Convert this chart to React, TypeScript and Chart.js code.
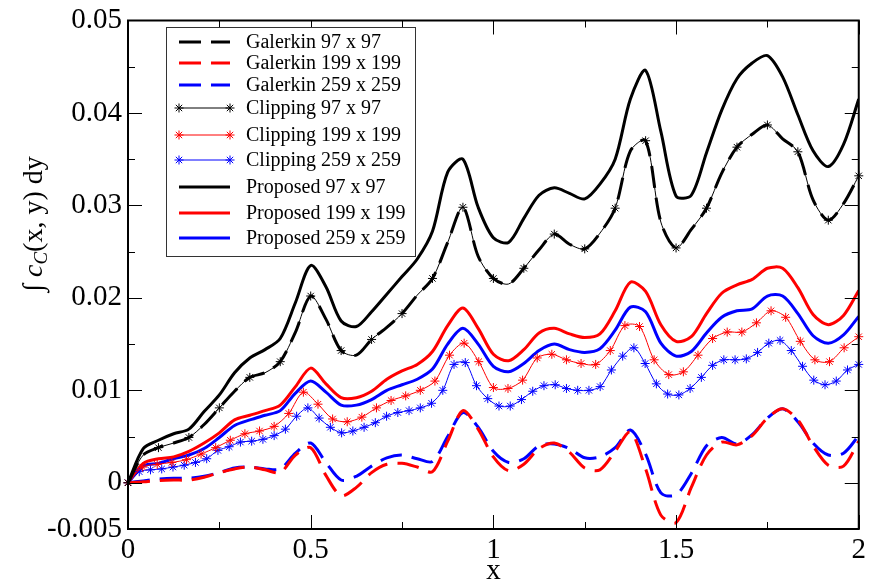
import { useEffect, useRef } from "react";
import { Chart, registerables } from "chart.js";

Chart.register(...registerables);

// ---------- data ----------
const xTicks = [0, 0.5, 1, 1.5, 2];
const yTicks = [-0.005, 0, 0.01, 0.02, 0.03, 0.04, 0.05];
const xMinorTicks = [0.25, 0.75, 1.25, 1.75];
const yMajorInner = [0, 0.01, 0.02, 0.03, 0.04];
const yMinorTicks = [0.005, 0.015, 0.025, 0.035, 0.045];

const seriesNames = [
  "Galerkin 97 x 97",
  "Galerkin 199 x 199",
  "Galerkin 259 x 259",
  "Clipping 97 x 97",
  "Clipping 199 x 199",
  "Clipping 259 x 259",
  "Proposed 97 x 97",
  "Proposed 199 x 199",
  "Proposed 259 x 259",
];

// sample positions (x = k/24 for lines, finer grids for the clipping markers)
const grid24 = Array.from({ length: 49 }, (_, k) => k / 24);
const grid199 = Array.from({ length: 51 }, (_, k) => k * 0.04);
const grid259 = Array.from({ length: 66 }, (_, k) => (2 * k) / 65);

const proposed97 = [
  0, 0.0037, 0.0046, 0.0053, 0.0058, 0.0077, 0.0095, 0.0119, 0.0135, 0.0144,
  0.0156, 0.0195, 0.0235, 0.0212, 0.0175, 0.0169, 0.0185, 0.0204, 0.0223, 0.0242,
  0.0272, 0.0336, 0.0350, 0.0298, 0.0265, 0.0260, 0.0286, 0.0311, 0.0319, 0.0313,
  0.0307, 0.0323, 0.0350, 0.0415, 0.0446, 0.0380, 0.0310, 0.0311, 0.0357, 0.0403,
  0.0437, 0.0454, 0.0462, 0.0439, 0.0398, 0.0359, 0.0342, 0.0366, 0.0415,
];

const proposed199 = [
  0, 0.0021, 0.0026, 0.0028, 0.0034, 0.0043, 0.0054, 0.0068, 0.0073, 0.0078,
  0.0084, 0.0104, 0.0124, 0.0107, 0.0092, 0.0092, 0.0099, 0.0112, 0.0121, 0.0128,
  0.0142, 0.0170, 0.0189, 0.0167, 0.0139, 0.0132, 0.0144, 0.0162, 0.0167, 0.0161,
  0.0157, 0.0161, 0.0186, 0.0217, 0.0207, 0.0171, 0.0153, 0.0158, 0.0183, 0.0205,
  0.0214, 0.0220, 0.0232, 0.0232, 0.0211, 0.0182, 0.0171, 0.0181, 0.0208,
];

const proposed259 = [
  0, 0.0018, 0.0021, 0.0026, 0.0030, 0.0037, 0.0049, 0.0062, 0.0068, 0.0073,
  0.0078, 0.0097, 0.0110, 0.0098, 0.0084, 0.0084, 0.0090, 0.0100, 0.0106, 0.0112,
  0.0123, 0.0150, 0.0167, 0.0150, 0.0126, 0.0120, 0.0129, 0.0143, 0.0150, 0.0144,
  0.0141, 0.0145, 0.0165, 0.0190, 0.0185, 0.0151, 0.0137, 0.0142, 0.0162, 0.0179,
  0.0186, 0.0188, 0.0202, 0.0202, 0.0183, 0.0159, 0.0151, 0.0160, 0.0180,
];

const clipping97 = [
  0, 0.0030, 0.0038, 0.0043, 0.0049, 0.0063, 0.0081, 0.0099, 0.0114, 0.0119,
  0.0131, 0.0163, 0.0202, 0.0177, 0.0143, 0.0138, 0.0155, 0.0168, 0.0183, 0.0203,
  0.0221, 0.0260, 0.0298, 0.0245, 0.0221, 0.0215, 0.0232, 0.0252, 0.0269, 0.0258,
  0.0253, 0.0270, 0.0297, 0.0359, 0.0370, 0.0282, 0.0254, 0.0274, 0.0297, 0.0335,
  0.0363, 0.0377, 0.0387, 0.0372, 0.0358, 0.0306, 0.0284, 0.0302, 0.0332,
];

const galerkin97 = [
  0, 0.0030, 0.0038, 0.0043, 0.0049, 0.0063, 0.0081, 0.0099, 0.0114, 0.0119,
  0.0131, 0.0163, 0.0202, 0.0177, 0.0143, 0.0138, 0.0155, 0.0168, 0.0183, 0.0203,
  0.0221, 0.0260, 0.0298, 0.0245, 0.0221, 0.0215, 0.0232, 0.0252, 0.0269, 0.0258,
  0.0253, 0.0270, 0.0297, 0.0359, 0.0370, 0.0282, 0.0254, 0.0274, 0.0297, 0.0335,
  0.0363, 0.0377, 0.0387, 0.0372, 0.0358, 0.0306, 0.0284, 0.0302, 0.0332,
];

const galerkin199 = [
  0, 0.0001, 0.00025, 0.0003, 0.0003, 0.0006, 0.0011, 0.0015, 0.0017, 0.0014,
  0.0011, 0.0030, 0.0038, 0.0008, -0.0014, -0.0005, 0.0011, 0.0020, 0.0021, 0.0017,
  0.0012, 0.0045, 0.0078, 0.0058, 0.0028, 0.0013, 0.0020, 0.0037, 0.0043, 0.0033,
  0.0016, 0.0014, 0.0034, 0.0055, 0.0015, -0.0035, -0.0043, -0.0005, 0.0030, 0.0044,
  0.0041, 0.0051, 0.0070, 0.0080, 0.0068, 0.0040, 0.0019, 0.0018, 0.0045,
];

const galerkin259 = [
  0, 0.0002, 0.0004, 0.0005, 0.0005, 0.0007, 0.0011, 0.0016, 0.0017, 0.0015,
  0.0015, 0.0032, 0.0043, 0.0022, 0.0003, 0.0007, 0.0018, 0.0027, 0.0030, 0.0026,
  0.0023, 0.0050, 0.0076, 0.0060, 0.0034, 0.0022, 0.0026, 0.0040, 0.0042, 0.0037,
  0.0027, 0.0028, 0.0038, 0.0057, 0.0031, -0.0011, -0.0013, 0.0010, 0.0040, 0.0049,
  0.0042, 0.0052, 0.0070, 0.0080, 0.0066, 0.0043, 0.0030, 0.0032, 0.0051,
];

const clipping199 = [
  0, 0.0017, 0.0020, 0.0022, 0.0025, 0.0031, 0.0038, 0.0046, 0.0053, 0.0056,
  0.0061, 0.0075, 0.0098, 0.0085, 0.0069, 0.0066, 0.0071, 0.0081, 0.0089, 0.0094,
  0.0100, 0.0110, 0.0138, 0.0151, 0.0131, 0.0103, 0.0102, 0.0111, 0.0135, 0.0139,
  0.0133, 0.0129, 0.0128, 0.0143, 0.0170, 0.0169, 0.0133, 0.0117, 0.0120, 0.0138,
  0.0156, 0.0163, 0.0163, 0.0173, 0.0186, 0.0179, 0.0153, 0.0133, 0.0131, 0.0146,
  0.0158,
];

const clipping259 = [
  0, 0.0012, 0.0014, 0.0015, 0.0017, 0.0019, 0.0022, 0.0026, 0.0035, 0.0039,
  0.0044, 0.0045, 0.0047, 0.0051, 0.0058, 0.0072, 0.0081, 0.0070, 0.0060, 0.0054,
  0.0056, 0.0060, 0.0065, 0.0072, 0.0076, 0.0078, 0.0081, 0.0086, 0.0100, 0.0128,
  0.0130, 0.0105, 0.0091, 0.0083, 0.0083, 0.0090, 0.0099, 0.0105, 0.0106, 0.0102,
  0.0100, 0.0100, 0.0104, 0.0122, 0.0137, 0.0146, 0.0129, 0.0107, 0.0096, 0.0095,
  0.0102, 0.0114, 0.0127, 0.0133, 0.0133, 0.0134, 0.0141, 0.0151, 0.0154, 0.0143,
  0.0126, 0.0111, 0.0106, 0.0110, 0.0122, 0.0128,
];

const xTitle = "x";

// ---------- styling ----------
const FONT = "'Liberation Serif', 'Times New Roman', serif";
const BLACK = "#000000";
const RED = "#ff0000";
const BLUE = "#0000ff";
const DASH = [22, 10];
const STAR_R = 4.5;

const pts = (xs: number[], ys: number[]) => ys.map((y, i) => ({ x: xs[i], y }));

type LegendItem = { name: string; color: string; kind: "dash" | "clip" | "solid" };
const legendItems: LegendItem[] = [
  { name: seriesNames[0], color: BLACK, kind: "dash" },
  { name: seriesNames[1], color: RED, kind: "dash" },
  { name: seriesNames[2], color: BLUE, kind: "dash" },
  { name: seriesNames[3], color: BLACK, kind: "clip" },
  { name: seriesNames[4], color: RED, kind: "clip" },
  { name: seriesNames[5], color: BLUE, kind: "clip" },
  { name: seriesNames[6], color: BLACK, kind: "solid" },
  { name: seriesNames[7], color: RED, kind: "solid" },
  { name: seriesNames[8], color: BLUE, kind: "solid" },
];
const legendRowY = [42, 63, 85, 108, 135, 160, 187, 213, 238];

function drawStar(ctx: CanvasRenderingContext2D, x: number, y: number, r: number) {
  const d = Math.cos(Math.PI / 4) * r;
  ctx.beginPath();
  ctx.moveTo(x - r, y);
  ctx.lineTo(x + r, y);
  ctx.moveTo(x, y - r);
  ctx.lineTo(x, y + r);
  ctx.moveTo(x - d, y - d);
  ctx.lineTo(x + d, y + d);
  ctx.moveTo(x - d, y + d);
  ctx.lineTo(x + d, y - d);
  ctx.stroke();
}

const framePlugin = {
  id: "frameTicks",
  afterDatasetsDraw(chart: any) {
    const { ctx, chartArea: ca, scales } = chart;
    const xs = scales.x;
    const ys = scales.y;
    ctx.save();
    ctx.strokeStyle = BLACK;
    ctx.lineWidth = 1;
    const major = 14;
    const minor = 7;
    const xTick = (v: number, len: number) => {
      const px = Math.round(xs.getPixelForValue(v)) + 0.5;
      ctx.beginPath();
      ctx.moveTo(px, ca.bottom);
      ctx.lineTo(px, ca.bottom - len);
      ctx.moveTo(px, ca.top);
      ctx.lineTo(px, ca.top + len);
      ctx.stroke();
    };
    const yTick = (v: number, len: number) => {
      const py = Math.round(ys.getPixelForValue(v)) + 0.5;
      ctx.beginPath();
      ctx.moveTo(ca.left, py);
      ctx.lineTo(ca.left + len, py);
      ctx.moveTo(ca.right, py);
      ctx.lineTo(ca.right - len, py);
      ctx.stroke();
    };
    xTicks.forEach((v) => xTick(v, major));
    xMinorTicks.forEach((v) => xTick(v, minor));
    yMajorInner.forEach((v) => yTick(v, major));
    yMinorTicks.forEach((v) => yTick(v, minor));
    ctx.lineWidth = 2;
    ctx.strokeRect(ca.left, ca.top, ca.right - ca.left, ca.bottom - ca.top);
    ctx.restore();
  },
  afterDraw(chart: any) {
    const { ctx, chartArea: ca } = chart;
    ctx.save();
    // legend box
    const bx = 166.5, by = 27.5, bw = 249, bh = 229;
    ctx.fillStyle = "#ffffff";
    ctx.fillRect(bx, by, bw, bh);
    ctx.strokeStyle = "#333333";
    ctx.lineWidth = 1;
    ctx.strokeRect(bx, by, bw, bh);
    const x0 = 179, x1 = 230, tx = 246;
    legendItems.forEach((it, i) => {
      const y = legendRowY[i];
      ctx.strokeStyle = it.color;
      if (it.kind === "dash") {
        ctx.lineWidth = 3;
        ctx.setLineDash(DASH);
      } else if (it.kind === "clip") {
        ctx.lineWidth = 1;
        ctx.setLineDash([]);
      } else {
        ctx.lineWidth = 3;
        ctx.setLineDash([]);
      }
      ctx.beginPath();
      ctx.moveTo(x0, y);
      ctx.lineTo(x1, y);
      ctx.stroke();
      ctx.setLineDash([]);
      if (it.kind === "clip") {
        ctx.lineWidth = 1;
        drawStar(ctx, x0, y, STAR_R);
        drawStar(ctx, x1, y, STAR_R);
      }
      ctx.fillStyle = BLACK;
      ctx.font = `20px ${FONT}`;
      ctx.textAlign = "left";
      ctx.textBaseline = "middle";
      ctx.fillText(it.name, tx, y + 1);
    });

    // x title
    ctx.fillStyle = BLACK;
    ctx.font = `29px ${FONT}`;
    ctx.textAlign = "center";
    ctx.textBaseline = "alphabetic";
    ctx.fillText(xTitle, (ca.left + ca.right) / 2, 579);

    // y title: ∫ c_C(x, y) dy
    const parts = [
      { t: "\u222B ", f: `28px ${FONT}`, dy: 0 },
      { t: "c", f: `italic 28px ${FONT}`, dy: 0 },
      { t: "C", f: `italic 19px ${FONT}`, dy: 5 },
      { t: "(x, y) dy", f: `28px ${FONT}`, dy: 0 },
    ];
    let total = 0;
    const widths = parts.map((p) => {
      ctx.font = p.f;
      const w = ctx.measureText(p.t).width;
      total += w;
      return w;
    });
    ctx.translate(42, 224);
    ctx.rotate(-Math.PI / 2);
    ctx.textAlign = "left";
    let cx = -total / 2;
    parts.forEach((p, i) => {
      ctx.font = p.f;
      ctx.fillText(p.t, cx, p.dy);
      cx += widths[i];
    });
    ctx.restore();
  },
};

export default function App() {
  const ref = useRef<HTMLCanvasElement | null>(null);

  useEffect(() => {
    document.body.style.margin = "0";
    if (!ref.current) return;

    const lineDs = (label: string, xs: number[], ys: number[], color: string, dashed: boolean) => ({
      label,
      data: pts(xs, ys),
      borderColor: color,
      backgroundColor: color,
      borderWidth: 3,
      borderDash: dashed ? DASH : [],
      pointRadius: 0,
      tension: 0.3,
      fill: false,
    });
    const clipDs = (label: string, xs: number[], ys: number[], color: string, every: number) => ({
      label,
      data: pts(xs, ys),
      borderColor: color,
      backgroundColor: color,
      borderWidth: 1,
      pointStyle: "star",
      pointRadius: (c: any) => (c.dataIndex % every === 0 ? STAR_R : 0),
      pointBorderWidth: 1,
      pointBorderColor: color,
      pointBackgroundColor: color,
      tension: 0.3,
      fill: false,
      clip: 8,
    });

    const chart = new Chart(ref.current, {
      type: "line",
      data: {
        datasets: [
          lineDs(seriesNames[0], grid24, galerkin97, BLACK, true),
          lineDs(seriesNames[1], grid24, galerkin199, RED, true),
          lineDs(seriesNames[2], grid24, galerkin259, BLUE, true),
          clipDs(seriesNames[3], grid24, clipping97, BLACK, 2),
          clipDs(seriesNames[4], grid199, clipping199, RED, 1),
          clipDs(seriesNames[5], grid259, clipping259, BLUE, 1),
          lineDs(seriesNames[6], grid24, proposed97, BLACK, false),
          lineDs(seriesNames[7], grid24, proposed199, RED, false),
          lineDs(seriesNames[8], grid24, proposed259, BLUE, false),
        ] as any,
      },
      options: {
        animation: false,
        responsive: false,
        maintainAspectRatio: false,
        events: [],
        layout: { padding: { left: 0, top: 15, right: 9, bottom: 0 } },
        plugins: {
          legend: { display: false },
          tooltip: { enabled: false },
          title: { display: false },
        },
        scales: {
          x: {
            type: "linear",
            min: 0,
            max: 2,
            grid: { display: false, drawTicks: false, tickLength: 0 },
            border: { display: false },
            afterBuildTicks: (s: any) => {
              s.ticks = xTicks.map((v) => ({ value: v }));
            },
            afterFit: (s: any) => {
              s.height = 59;
            },
            ticks: {
              autoSkip: false,
              maxRotation: 0,
              padding: 7,
              color: BLACK,
              font: { family: FONT, size: 29, lineHeight: 1 },
              callback: (v: any) => String(v),
            },
          },
          y: {
            type: "linear",
            min: -0.005,
            max: 0.05,
            grid: { display: false, drawTicks: false, tickLength: 0 },
            border: { display: false },
            afterBuildTicks: (s: any) => {
              s.ticks = yTicks.map((v) => ({ value: v }));
            },
            afterFit: (s: any) => {
              s.width = 128;
            },
            ticks: {
              autoSkip: false,
              padding: 6,
              color: BLACK,
              font: { family: FONT, size: 29, lineHeight: 1 },
              callback: (v: any) => String(v),
            },
          },
        },
      },
      plugins: [framePlugin],
    });

    return () => chart.destroy();
  }, []);

  return (
    <div style={{ width: 873, height: 588 }}>
      <canvas ref={ref} width={873} height={588} />
    </div>
  );
}
